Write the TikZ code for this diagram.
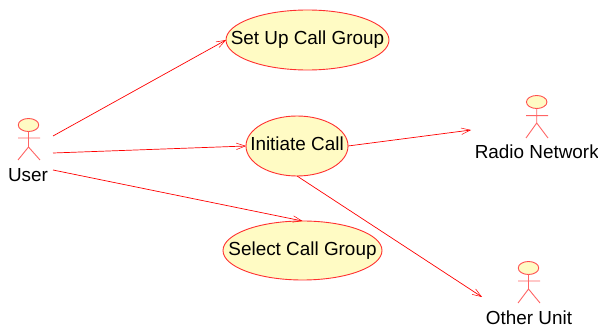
\documentclass[tikz,border=0pt]{standalone}
\usepackage{fontspec}
\setmainfont{Liberation Sans}
\usetikzlibrary{shapes.geometric,arrows.meta}
\definecolor{ucfill}{HTML}{FFFBC4}
\definecolor{ucline}{HTML}{FF3030}
\newcommand{\uctext}[1]{\makebox[0pt][c]{\smash{\raisebox{-5pt}{#1}}}}
\tikzset{
  usecase/.style={ellipse,draw=ucline,fill=ucfill,line width=0.9pt,inner sep=0pt,outer sep=0pt,font=\fontsize{18.9}{20}\selectfont,text=black},
  acthead/.style={ellipse,draw=ucline!85,fill=ucfill,line width=0.9pt,minimum width=20.5pt,minimum height=13pt,inner sep=0pt,outer sep=0pt},
  actlimb/.style={draw=ucline!75,line width=0.9pt},
  actname/.style={font=\fontsize{18.9}{20}\selectfont,text=black,inner sep=0pt,anchor=base},
  assoc/.style={draw=red,line width=0.7pt,-{Straight Barb[length=9pt,width=6.5pt,line width=0.5pt]}}
}
\begin{document}
\begin{tikzpicture}[x=1pt,y=-1pt]
\useasboundingbox (0,0) rectangle (598,326);
% use cases
\node[usecase,minimum width=163pt,minimum height=60pt] (setup) at (307.5,40) {\uctext{Set Up Call Group}};
\node[usecase,minimum width=102pt,minimum height=60pt] (init) at (297,146) {\uctext{Initiate Call}};
\node[usecase,minimum width=159pt,minimum height=59pt] (select) at (302.5,250.5) {\uctext{Select Call Group}};
% User
\node[acthead] (uhead) at (28.5,125) {};
\coordinate (uhip) at (28.5,147);
\coordinate (uarml) at (18,138);
\coordinate (uarmr) at (40,138);
\coordinate (ufootl) at (18,160);
\coordinate (ufootr) at (40,160);
\draw[actlimb] (uhead.south) -- (uhip) -- (ufootl) (uhip) -- (ufootr) (uarml) -- (uarmr);
\node[actname] (user) at (28,182) {User};
\coordinate (uout1) at (53,136);
\coordinate (uout2) at (53,153);
\coordinate (uout3) at (53,170);
% Radio Network
\node[acthead] (rhead) at (536.7,102) {};
\coordinate (rhip) at (536.7,123);
\draw[actlimb] (rhead.south) -- (rhip) -- (526,138) (rhip) -- (548,138) (526,115.7) -- (548,115.7);
\node[actname] (radio) at (536.8,159) {Radio Network};
\coordinate (rin) at (471,130);
% Other Unit
\node[acthead] (ohead) at (528.5,268) {};
\coordinate (ohip) at (528.5,289);
\draw[actlimb] (ohead.south) -- (ohip) -- (518,303) (ohip) -- (540,303) (518,281) -- (540,281);
\node[actname] (other) at (529,324.5) {Other Unit};
\coordinate (oin) at (482,297);
% associations
\draw[assoc] (uout1) -- (setup.west);
\draw[assoc] (uout2) -- (init.west);
\draw[assoc] (uout3) -- (select.north);
\draw[assoc] (init.east) -- (rin);
\draw[assoc] (init.south) -- (oin);
\end{tikzpicture}
\end{document}
